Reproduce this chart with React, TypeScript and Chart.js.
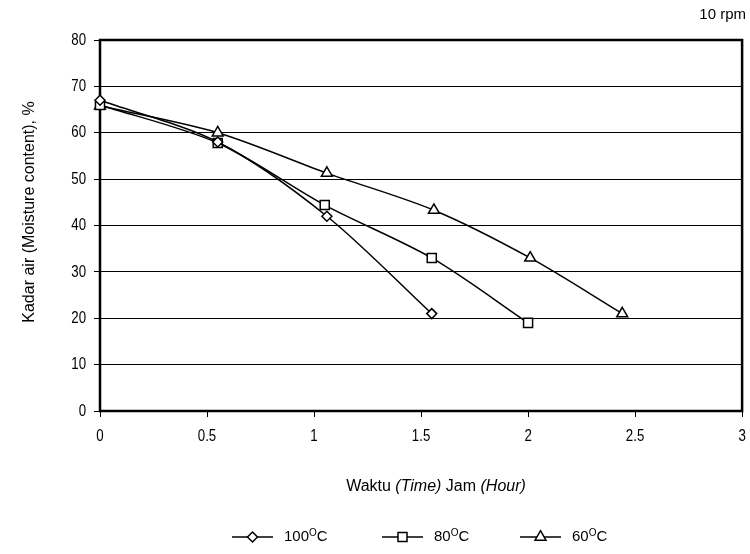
import React, { useEffect, useRef } from "react";
import { Chart, registerables } from "chart.js";

Chart.register(...registerables);

const FONT = '"Liberation Sans", Arial, sans-serif';

const seriesLabels = ["100", "80", "60"];
const time100 = [0, 0.55, 1.06, 1.55];
const moisture100 = [67, 58, 42, 21];
const time80 = [0, 0.55, 1.05, 1.55, 2.0];
const moisture80 = [66, 57.8, 44.4, 33, 19];
const time60 = [0, 0.55, 1.06, 1.56, 2.01, 2.44];
const moisture60 = [65.8, 60, 51.3, 43.3, 33, 21];
const xTicks = ["0", "0.5", "1", "1.5", "2", "2.5", "3"];
const yTicks = ["0", "10", "20", "30", "40", "50", "60", "70", "80"];

const toPts = (xs: number[], ys: number[]) => xs.map((x, i) => ({ x, y: ys[i] }));

function narrowText(ctx: CanvasRenderingContext2D, text: string, x: number, y: number, align: "left" | "right" | "center", size: number, sx = 0.78) {
  ctx.save();
  ctx.font = `${size}px ${FONT}`;
  ctx.textBaseline = "middle";
  ctx.textAlign = align;
  ctx.translate(x, y);
  ctx.scale(sx, 1);
  ctx.fillText(text, 0, 0);
  ctx.restore();
}

function drawMarker(ctx: CanvasRenderingContext2D, style: string, x: number, y: number) {
  ctx.save();
  ctx.fillStyle = "#fff";
  ctx.strokeStyle = "#000";
  ctx.lineWidth = 1.5;
  ctx.beginPath();
  if (style === "rectRot") {
    const r = 5;
    ctx.moveTo(x, y - r);
    ctx.lineTo(x + r, y);
    ctx.lineTo(x, y + r);
    ctx.lineTo(x - r, y);
    ctx.closePath();
  } else if (style === "rect") {
    const s = 4.5;
    ctx.rect(x - s, y - s, 2 * s, 2 * s);
  } else {
    const r = 6.3;
    ctx.moveTo(x, y - r);
    ctx.lineTo(x + r * Math.sin((2 * Math.PI) / 3), y + r / 2);
    ctx.lineTo(x - r * Math.sin((2 * Math.PI) / 3), y + r / 2);
    ctx.closePath();
  }
  ctx.fill();
  ctx.stroke();
  ctx.restore();
}

const decor = {
  id: "decor",
  beforeDatasetsDraw(chart: any) {
    const { ctx, chartArea: a } = chart;
    ctx.save();
    ctx.strokeStyle = "#000";
    ctx.lineWidth = 2.5;
    ctx.strokeRect(a.left, a.top, a.right - a.left, a.bottom - a.top);
    ctx.restore();
  },
  afterDraw(chart: any) {
    const { ctx, chartArea: a } = chart;
    const xs = chart.scales.x;
    const ys = chart.scales.y;
    ctx.save();
    ctx.fillStyle = "#000";
    // tick labels
    for (const t of yTicks) {
      narrowText(ctx, t, a.left - 14, ys.getPixelForValue(parseFloat(t)), "right", 17);
    }
    for (const t of xTicks) {
      narrowText(ctx, t, xs.getPixelForValue(parseFloat(t)), a.bottom + 25, "center", 17);
    }
    ctx.textBaseline = "middle";
    // top right label
    ctx.font = `15px ${FONT}`;
    ctx.textAlign = "right";
    ctx.fillText("10 rpm", 746, 15);
    // x title
    ctx.textAlign = "left";
    const parts: [string, boolean][] = [["Waktu ", false], ["(Time)", true], [" Jam ", false], ["(Hour)", true]];
    let total = 0;
    for (const [t, it] of parts) {
      ctx.font = `${it ? "italic " : ""}16px ${FONT}`;
      total += ctx.measureText(t).width;
    }
    let x = 436 - total / 2;
    for (const [t, it] of parts) {
      ctx.font = `${it ? "italic " : ""}16px ${FONT}`;
      ctx.fillText(t, x, 487);
      x += ctx.measureText(t).width;
    }
    // y title
    ctx.save();
    ctx.translate(30, 212);
    ctx.rotate(-Math.PI / 2);
    ctx.textAlign = "center";
    ctx.font = `16px ${FONT}`;
    ctx.fillText("Kadar air (Moisture content), %", 0, 0);
    ctx.restore();
    // legend
    const items = [
      { style: "rectRot", x0: 232, label: seriesLabels[0] },
      { style: "rect", x0: 382, label: seriesLabels[1] },
      { style: "triangle", x0: 520, label: seriesLabels[2] },
    ];
    const ly = 537;
    for (const it of items) {
      ctx.strokeStyle = "#000";
      ctx.lineWidth = 1.5;
      ctx.beginPath();
      ctx.moveTo(it.x0, ly);
      ctx.lineTo(it.x0 + 41, ly);
      ctx.stroke();
      drawMarker(ctx, it.style, it.x0 + 20.5, ly);
      let tx = it.x0 + 52;
      ctx.textAlign = "left";
      ctx.font = `15px ${FONT}`;
      ctx.fillText(it.label, tx, ly);
      tx += ctx.measureText(it.label).width;
      ctx.font = `10px ${FONT}`;
      ctx.fillText("O", tx, ly - 4);
      tx += ctx.measureText("O").width;
      ctx.font = `15px ${FONT}`;
      ctx.fillText("C", tx, ly);
    }
    ctx.restore();
  },
};

export default function App() {
  const ref = useRef<HTMLCanvasElement>(null);
  useEffect(() => {
    document.body.style.margin = "0";
    const common = {
      borderColor: "#000",
      borderWidth: 1.5,
      pointBackgroundColor: "#fff",
      pointBorderColor: "#000",
      pointBorderWidth: 1.5,
      tension: 0.3,
      clip: false as any,
      fill: false,
    };
    const chart = new Chart(ref.current!, {
      type: "line",
      data: {
        datasets: [
          { ...common, label: "100", data: toPts(time100, moisture100), pointStyle: "rectRot", pointRadius: 5 },
          { ...common, label: "80", data: toPts(time80, moisture80), pointStyle: "rect", pointRadius: 6.4 },
          { ...common, label: "60", data: toPts(time60, moisture60), pointStyle: "triangle", pointRadius: 6.3 },
        ],
      },
      plugins: [decor],
      options: {
        responsive: false,
        animation: false,
        layout: { padding: { left: 0, top: 40, right: 5, bottom: 0 } },
        plugins: { legend: { display: false }, tooltip: { enabled: false } },
        scales: {
          x: {
            type: "linear",
            min: 0,
            max: 3,
            afterFit: (s: any) => { s.height = 143; s.paddingLeft = 0; s.paddingRight = 0; },
            afterBuildTicks: (s: any) => { s.ticks = xTicks.map((t) => ({ value: parseFloat(t) })); },
            ticks: { display: false },
            grid: { drawOnChartArea: false, drawTicks: true, tickLength: 6, color: "#000", lineWidth: 1 },
            border: { display: false },
          },
          y: {
            type: "linear",
            min: 0,
            max: 80,
            afterFit: (s: any) => { s.width = 100; s.paddingTop = 0; s.paddingBottom = 0; },
            afterBuildTicks: (s: any) => { s.ticks = yTicks.map((v) => ({ value: parseFloat(v) })); },
            ticks: { display: false },
            grid: { color: "#000", lineWidth: 1, tickLength: 6 },
            border: { display: false },
          },
        },
      },
    });
    return () => chart.destroy();
  }, []);
  return (
    <div style={{ width: 750, height: 554, background: "#fff" }}>
      <canvas ref={ref} width={750} height={554} />
    </div>
  );
}
